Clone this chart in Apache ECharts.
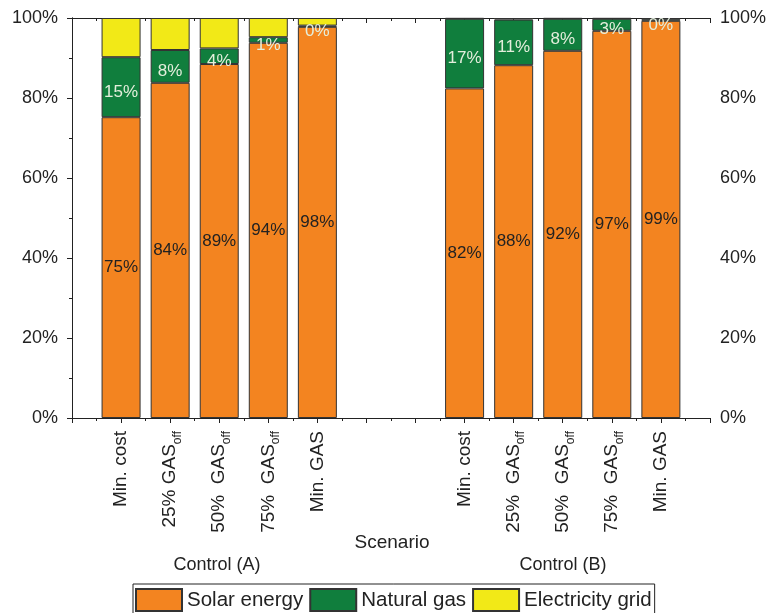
<!DOCTYPE html>
<html>
<head>
<meta charset="utf-8">
<script src="https://cdn.jsdelivr.net/npm/echarts@6/dist/echarts.min.js"></script>
<style>
  html, body { margin: 0; padding: 0; background: #fff; }
  #main { width: 769px; height: 613px; }
</style>
</head>
<body>
<div id="main"></div>
<script>
  // scenario slots 0..13, empty ones keep the gap between the two groups
  var scenarios = ['', 'Min. cost', '25% GAS{sub|off}', '50%  GAS{sub|off}', '75%  GAS{sub|off}', 'Min. GAS',
                   '', '', 'Min. cost', '25%  GAS{sub|off}', '50%  GAS{sub|off}', '75%  GAS{sub|off}', 'Min. GAS', ''];
  var solar = [null, 75.2, 83.8, 88.5, 93.8, 97.8, null, null, 82.4, 88.2, 91.8, 96.8, 99.3, null];
  var gas   = [null, 15.0, 8.2, 3.9, 1.4, 0.3, null, null, 17.4, 11.4, 8.0, 3.0, 0.4, null];
  var grid  = [null, 9.8, 8.0, 7.6, 4.8, 1.9, null, null, 0.2, 0.4, 0.2, 0.2, 0.3, null];
  var seriesNames = ['Solar energy', 'Natural gas', 'Electricity grid'];
  var groupNames = ['Control (A)', 'Control (B)'];
  var yTicks = [0, 20, 40, 60, 80, 100];

  var font = 'Liberation Sans, Arial, sans-serif';
  var txt = '#222';

  var myChart = echarts.init(document.getElementById('main'));

  function tickAxis(pos, inside) {
    return {
      type: 'value', position: pos, min: 0, max: 13, interval: 1,
      axisLine: { show: pos === 'top', lineStyle: { color: txt, width: 1 } },
      axisTick: { show: true, inside: inside, length: 5, lineStyle: { color: txt } },
      minorTick: { show: true, splitNumber: 2, length: 3, lineStyle: { color: txt } },
      axisLabel: { show: false },
      splitLine: { show: false }
    };
  }

  function yAxis(pos, inside, margin) {
    return {
      type: 'value', position: pos, min: yTicks[0], max: yTicks[yTicks.length - 1], interval: 20,
      axisLine: { show: true, lineStyle: { color: txt, width: 1 } },
      axisTick: { show: true, inside: inside, length: 5, lineStyle: { color: txt } },
      minorTick: { show: true, splitNumber: 2, length: 3, lineStyle: { color: txt } },
      axisLabel: { formatter: '{value}%', fontSize: 18, color: txt, fontFamily: font, margin: margin },
      splitLine: { show: false }
    };
  }

  var pctLabel = function (p) { return Math.round(p.value) + '%'; };

  var option = {
    animation: false,
    textStyle: { fontFamily: font },
    grid: { left: 72, right: 57, top: 18, bottom: 195 },
    legend: {
      data: seriesNames,
      left: 133, top: 584,
      padding: [4, 3, 3, 2],
      itemGap: 6,
      icon: 'rect',
      itemWidth: 46, itemHeight: 22,
      borderColor: '#222', borderWidth: 1,
      textStyle: { fontSize: 20.5, color: txt, fontFamily: font }
    },
    xAxis: [
      {
        type: 'category', data: scenarios, boundaryGap: false,
        axisLine: { show: true, lineStyle: { color: txt, width: 1 } },
        axisTick: { show: false },
        axisLabel: {
          interval: 0, rotate: 90, margin: 13, fontSize: 19, color: txt, fontFamily: font,
          rich: { sub: { fontSize: 12, verticalAlign: 'bottom', padding: [0, 0, -4, 0], color: txt, fontFamily: font } }
        },
        splitLine: { show: false }
      },
      tickAxis('bottom', false),
      tickAxis('top', true)
    ],
    yAxis: [yAxis('left', false, 14), yAxis('right', true, 10)],
    graphic: [
      { type: 'text', x: 392, y: 543, style: { text: 'Scenario', fontSize: 19, fill: txt, fontFamily: font, align: 'center', verticalAlign: 'middle' } },
      { type: 'text', x: 217, y: 565, style: { text: groupNames[0], fontSize: 18, fill: txt, fontFamily: font, align: 'center', verticalAlign: 'middle' } },
      { type: 'text', x: 563, y: 565, style: { text: groupNames[1], fontSize: 18, fill: txt, fontFamily: font, align: 'center', verticalAlign: 'middle' } }
    ],
    series: [
      {
        name: seriesNames[0], type: 'bar', stack: 'mix', data: solar, barWidth: 39,
        itemStyle: { color: '#F38420', borderColor: '#333', borderWidth: 1 },
        label: { show: true, position: 'inside', fontSize: 17, color: txt, formatter: pctLabel }
      },
      {
        name: seriesNames[1], type: 'bar', stack: 'mix', data: gas, barWidth: 39,
        itemStyle: { color: '#107E3D', borderColor: '#333', borderWidth: 1 },
        label: { show: true, position: 'inside', offset: [0, 5], fontSize: 17, color: '#e4eedc', formatter: pctLabel }
      },
      {
        name: seriesNames[2], type: 'bar', stack: 'mix', data: grid, barWidth: 39,
        itemStyle: { color: '#F2E917', borderColor: '#333', borderWidth: 1 }
      }
    ]
  };
  myChart.setOption(option);
</script>
</body>
</html>
